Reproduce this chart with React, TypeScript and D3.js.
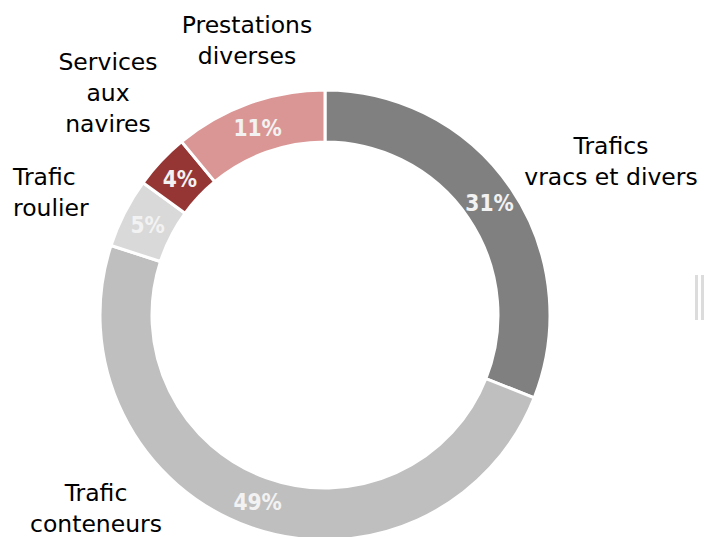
import React from "react";
import * as d3 from "d3";

const categories = [
  "Trafics vracs et divers",
  "Trafic conteneurs",
  "Trafic roulier",
  "Services aux navires",
  "Prestations diverses",
];
const values = [31, 49, 5, 4, 11];
const colors = ["#808080", "#bfbfbf", "#d9d9d9", "#963634", "#da9694"];
const labelLines = [
  ["Trafics", "vracs et divers"],
  ["Trafic", "conteneurs"],
  ["Trafic", "roulier"],
  ["Services", "aux", "navires"],
  ["Prestations", "diverses"],
];
// label anchor (x, first baseline y, anchor)
const labelPos: [number, number, string][] = [
  [611, 154, "middle"],
  [96, 501, "middle"],
  [13, 185, "start"],
  [108, 70, "middle"],
  [247, 33, "middle"],
];

const W = 704;
const H = 537;
const cx = 325;
const cy = 315;
const R = 225;
const r = 173;

export default function App() {
  const pie = d3
    .pie<number>()
    .sort(null)
    .value((d) => d)
    .startAngle(0)
    .endAngle(2 * Math.PI);
  const arcs = pie(values);
  const arc = d3.arc<d3.PieArcDatum<number>>().innerRadius(r).outerRadius(R);
  const labelArc = d3
    .arc<d3.PieArcDatum<number>>()
    .innerRadius((r + R) / 2)
    .outerRadius((r + R) / 2);

  return (
    <svg
      width={W}
      height={H}
      style={{ position: "absolute", left: 0, top: 0, display: "block" }}
    >
      <rect x={0} y={0} width={W} height={H} fill="#ffffff" />
      <g transform={`translate(${cx},${cy})`}>
        {arcs.map((a, i) => (
          <path
            key={categories[i]}
            d={arc(a) || ""}
            fill={colors[i]}
            stroke="#ffffff"
            strokeWidth={3}
          />
        ))}
        {arcs.map((a, i) => {
          const [x, y] = labelArc.centroid(a);
          return (
            <text
              key={"p" + i}
              x={x}
              y={y}
              textAnchor="middle"
              dominantBaseline="central"
              fontFamily="'DejaVu Sans Condensed', 'DejaVu Sans', sans-serif"
              fontWeight="bold"
              fontSize={22.5}
              fill="#f2f2f2"
            >
              {values[i]}%
            </text>
          );
        })}
      </g>
      {labelLines.map((lines, i) => (
        <text
          key={"l" + i}
          x={labelPos[i][0]}
          y={labelPos[i][1]}
          textAnchor={labelPos[i][2]}
          fontFamily="'DejaVu Sans', sans-serif"
          fontSize={23.5}
          fill="#000000"
        >
          {lines.map((t, j) => (
            <tspan key={j} x={labelPos[i][0]} dy={j === 0 ? 0 : 31}>
              {t}
            </tspan>
          ))}
        </text>
      ))}
      <rect x={695} y={275} width={3} height={45} fill="#dcdcdc" />
      <rect x={701} y={275} width={3} height={45} fill="#dcdcdc" />
    </svg>
  );
}
